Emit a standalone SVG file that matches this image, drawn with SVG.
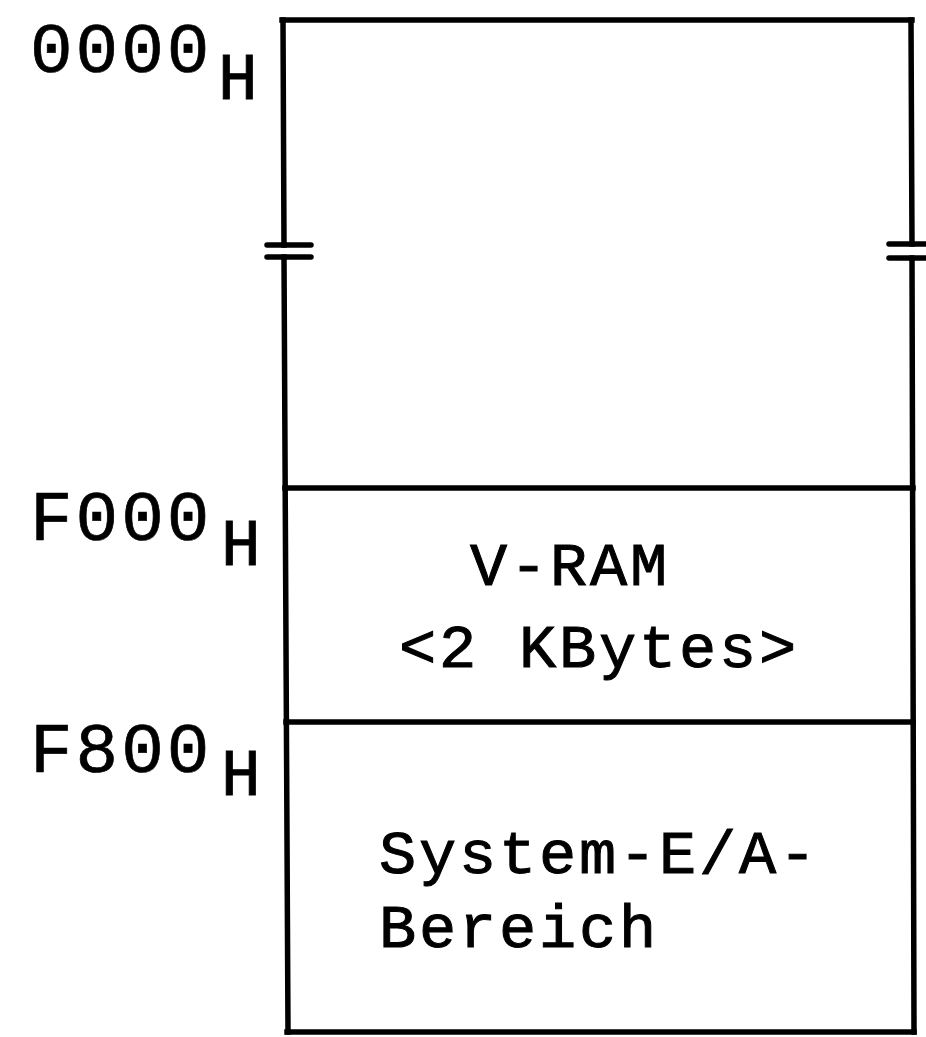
<svg xmlns="http://www.w3.org/2000/svg" width="926" height="1037" viewBox="0 0 926 1037">
<style>
.ln{stroke:#000;stroke-width:5.5;fill:none;stroke-linecap:square}
.br{stroke:#000;stroke-width:5.5;fill:none;stroke-linecap:round}
.lbl{font-family:"Liberation Mono",monospace;font-size:71px;letter-spacing:3px;fill:#000;stroke:#000;stroke-width:0.7}
.sub{font-family:"Liberation Mono",monospace;font-size:66px;fill:#000;stroke:#000;stroke-width:0.9}
.txt{font-family:"Liberation Mono",monospace;font-size:62px;letter-spacing:2.8px;fill:#000;stroke:#000;stroke-width:1}
</style>
<rect width="926" height="1037" fill="#fff"/>
<g id="frame">
<line class="ln" x1="282" y1="20" x2="912" y2="20"/>
<line class="ln" x1="283" y1="20" x2="284" y2="245"/>
<line class="ln" x1="284" y1="257" x2="288" y2="1032"/>
<line class="ln" x1="911" y1="20" x2="912" y2="244"/>
<line class="ln" x1="912" y1="258" x2="914" y2="1032"/>
<line class="ln" x1="287" y1="1032" x2="914" y2="1032"/>
<line class="br" x1="267" y1="245" x2="311" y2="245"/>
<line class="br" x1="267" y1="257" x2="311" y2="257"/>
<line class="br" x1="889" y1="244" x2="926" y2="244"/>
<line class="br" x1="889" y1="258" x2="926" y2="258"/>
</g>
<g id="region-top">
<text class="lbl" x="30" y="72">0000</text>
<text class="sub" x="218" y="99">H</text>
</g>
<g id="region-vram">
<line class="ln" x1="285" y1="488" x2="913" y2="488"/>
<text class="lbl" x="30" y="540">F000</text>
<text class="sub" x="221" y="565">H</text>
<text class="txt" x="470" y="585">V-RAM</text>
<text class="txt" x="399" y="667">&lt;2 KBytes&gt;</text>
</g>
<g id="region-system">
<line class="ln" x1="286" y1="722" x2="913" y2="722"/>
<text class="lbl" x="30" y="772">F800</text>
<text class="sub" x="221" y="795">H</text>
<text class="txt" x="379" y="873">System-E/A-</text>
<text class="txt" x="379" y="947">Bereich</text>
</g>
</svg>
